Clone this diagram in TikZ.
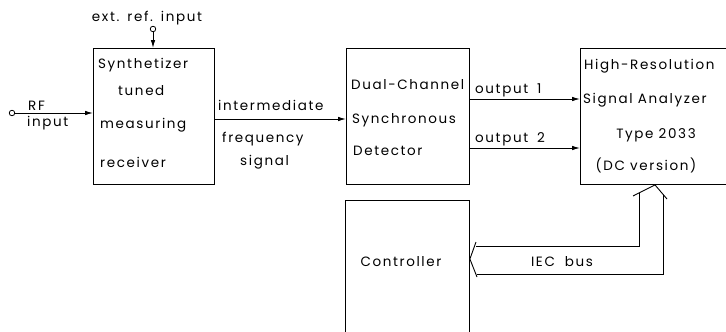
\documentclass[tikz,border=0pt]{standalone}
\usepackage{fontspec}
\setmainfont{Poppins}[LetterSpace=12]
\usetikzlibrary{arrows.meta,calc}
\begin{document}
\begin{tikzpicture}[x=1pt,y=-1pt,
  font=\fontsize{13.5pt}{16pt}\selectfont,
  box/.style={draw, line width=0.9pt, inner sep=0pt, anchor=north west},
  lbl/.style={inner sep=0pt, anchor=base west},
  clbl/.style={inner sep=0pt, anchor=base},
  term/.style={circle, draw, line width=0.8pt, inner sep=0pt, minimum size=5.5pt},
  conn/.style={line width=0.9pt, -{Latex[length=8pt,width=4.5pt]}},
  bus/.style={line width=0.9pt}]
\useasboundingbox (0,0) rectangle (726,332);
\clip (0,0) rectangle (726,332);
% boxes
\node[box, minimum width=121pt, minimum height=136pt] (syn) at (93,48) {};
\node[box, minimum width=123pt, minimum height=136pt] (det) at (346,48) {};
\node[box, minimum width=170pt, minimum height=136pt] (ana) at (580,48) {};
\node[box, minimum width=124pt, minimum height=170pt] (ctl) at (345,200) {};
% box texts
\node[lbl] (t1) at (98,68) {Synthetizer};
\node[lbl] (t2) at (118,95) {tuned};
\node[lbl] (t3) at (100,128) {measuring};
\node[lbl] (t4) at (100,167) {receiver};
\node[lbl] (t5) at (351,89) {Dual-Channel};
\node[lbl] (t6) at (352,123) {Synchronous};
\node[lbl] (t7) at (353,155) {Detector};
\node[lbl] (t8) at (584,69) {High-Resolution};
\node[lbl] (t9) at (583,103) {Signal Analyzer};
\node[clbl] (t10) at (656,138) {Type 2033};
\node[clbl] (t11) at (646,170) {(DC version)};
\node[clbl] (t12) at (401,266) {Controller};
% labels
\node[clbl] (l1) at (147,21) {ext.\hspace{8pt}ref.\hspace{8pt}input};
\node[lbl] (l2) at (28,110) {RF};
\node[lbl] (l3) at (27,126) {input};
\node[lbl] (l4) at (218,110) {intermediate};
\node[lbl] (l5) at (222,142) {frequency};
\node[lbl] (l6) at (240,165) {signal};
\node[lbl] (l7) at (475,93) {output\hspace{9pt}1};
\node[lbl] (l8) at (475,142) {output\hspace{9pt}2};
\node[clbl] (l9) at (562,266) {IEC\hspace{10pt}bus};
% terminals
\node[term] (rf) at (12,113) {};
\node[term] (ext) at (153,29) {};
% connectors
\draw[conn] (rf) -- (rf -| syn.west);
\draw[conn] (ext) -- (ext |- syn.north);
\coordinate (if0) at (syn.east |- 0,119);
\draw[conn] (if0) -- (if0 -| det.west);
\coordinate (o1) at (det.east |- 0,99);
\coordinate (o2) at (det.east |- 0,148);
\draw[conn] (o1) -- (o1 -| ana.west);
\draw[conn] (o2) -- (o2 -| ana.west);
% IEC bus (double-line arrow)
\coordinate (ctip) at (ctl.east |- 0,259);
\coordinate (atip) at (ana.south -| 655,0);
\draw[bus] (476,242) -- (ctip) -- (477,277);
\draw[bus] (476,246) -- (639,246) -- (639,193);
\draw[bus] (477,274) -- (663,274) -- (663,195);
\draw[bus] (633,196) -- (atip) -- (667,199);
\end{tikzpicture}
\end{document}
